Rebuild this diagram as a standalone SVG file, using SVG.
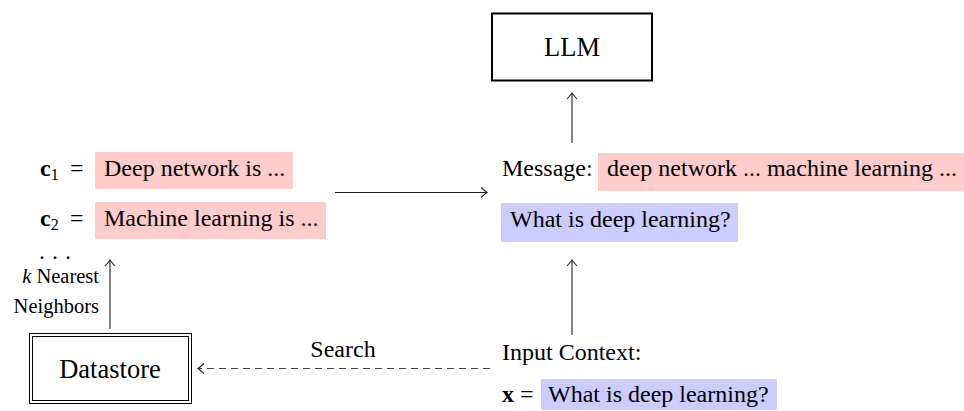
<svg xmlns="http://www.w3.org/2000/svg" width="964" height="411" viewBox="0 0 964 411">
<style>
text{font-family:"Liberation Serif","Times New Roman",serif;fill:#000;}
.n{font-size:24px;}
.big{font-size:26.5px;}
.sm{font-size:20.5px;}
.pink{fill:#FFCCCC;}
.blue{fill:#CCCCFF;}
.ln{stroke:#222;stroke-width:1.1;fill:none;}
.dash{stroke:#444;stroke-width:1.1;fill:none;stroke-dasharray:7,5;}
</style>
<defs>
<marker id="to" viewBox="-8 -6 10 12" refX="0" refY="0" markerWidth="10" markerHeight="12" markerUnits="userSpaceOnUse" orient="auto">
<path d="M-6,-5 Q-1.5,-1 0,0 Q-1.5,1 -6,5" fill="none" stroke="#222" stroke-width="1.1"/>
</marker>
</defs>
<g id="llm">
<rect x="492" y="13.5" width="160" height="67" fill="#fff" stroke="#000" stroke-width="2"/>
<text class="big" x="572" y="56" text-anchor="middle">LLM</text>
</g>
<g id="message">
<text class="n" x="502" y="176">Message:</text>
<rect class="pink" x="598" y="153" width="366" height="38"/>
<text class="n" x="607" y="176">deep network ... machine learning ...</text>
</g>
<g id="question">
<rect class="blue" x="501" y="203" width="237" height="39"/>
<text class="n" x="510" y="227">What is deep learning?</text>
</g>
<g id="c1">
<text class="n" x="40" y="176"><tspan font-weight="bold">c</tspan><tspan font-size="16" dy="4">1</tspan></text>
<text class="n" x="70" y="176">=</text>
<rect class="pink" x="95" y="152" width="198" height="37"/>
<text class="n" x="104" y="176">Deep network is ...</text>
</g>
<g id="c2">
<text class="n" x="40" y="226"><tspan font-weight="bold">c</tspan><tspan font-size="16" dy="4">2</tspan></text>
<text class="n" x="70" y="226">=</text>
<rect class="pink" x="95" y="202" width="231" height="37"/>
<text class="n" x="104" y="226">Machine learning is ...</text>
</g>
<g id="dots">
<text class="n" x="39" y="259" letter-spacing="0.5">. . .</text>
</g>
<g id="datastore">
<rect x="29.5" y="333.5" width="162" height="70" fill="none" stroke="#000" stroke-width="1"/>
<rect x="32.5" y="336.5" width="156" height="64" fill="none" stroke="#000" stroke-width="1"/>
<text class="big" x="110" y="378" text-anchor="middle">Datastore</text>
</g>
<g id="input">
<text class="n" x="502" y="360">Input Context:</text>
<text class="n" x="502" y="402"><tspan font-weight="bold">x</tspan> =</text>
<rect class="blue" x="541" y="379" width="236" height="31"/>
<text class="n" x="548" y="402">What is deep learning?</text>
</g>
<g id="connectors">
<line class="ln" x1="572" y1="143" x2="572" y2="93" marker-end="url(#to)"/>
<line class="ln" x1="335" y1="192.5" x2="487" y2="192.5" marker-end="url(#to)"/>
<line class="ln" x1="572" y1="335" x2="572" y2="260" marker-end="url(#to)"/>
<line class="ln" x1="110" y1="329" x2="110" y2="260" marker-end="url(#to)"/>
<line class="dash" x1="490" y1="368.5" x2="198" y2="368.5" marker-end="url(#to)"/>
<text class="n" x="343" y="357" text-anchor="middle">Search</text>
<text class="sm" x="99" y="283" text-anchor="end"><tspan font-style="italic">k</tspan> Nearest</text>
<text class="sm" x="99" y="313" text-anchor="end">Neighbors</text>
</g>
</svg>
